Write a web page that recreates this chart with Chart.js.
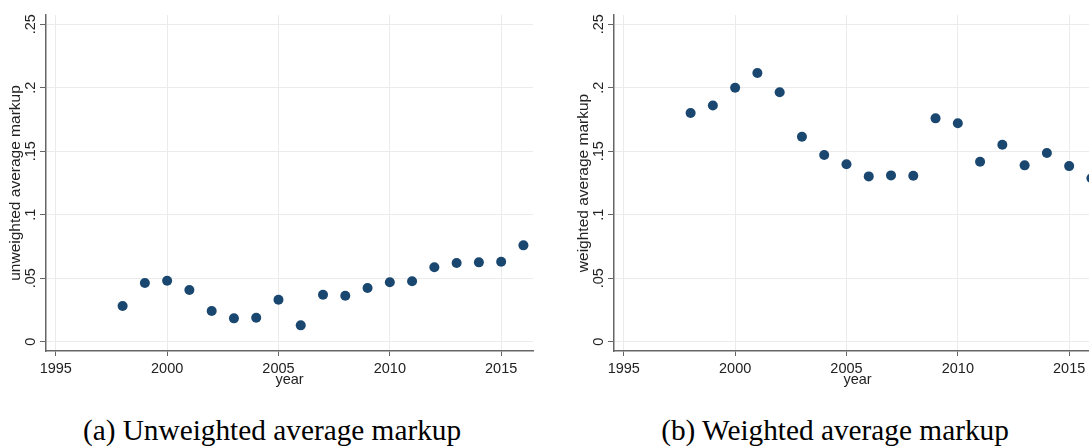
<!DOCTYPE html>
<html>
<head>
<meta charset="utf-8">
<script src="https://cdn.jsdelivr.net/npm/chart.js@4.4.1/dist/chart.umd.min.js"></script>
<style>
  html, body { margin: 0; padding: 0; background: #fff; }
  body { width: 1089px; height: 447px; overflow: hidden; position: relative; }
  .box { position: absolute; top: 0; width: 545px; height: 400px; }
  .cap {
    position: absolute; top: 416px; width: 500px;
    font-family: "Liberation Serif", "Times New Roman", serif;
    font-size: 29.3px; line-height: 29.5px; color: #000;
    white-space: nowrap; text-align: center;
  }
</style>
</head>
<body>
<div class="box" style="left:0"><canvas id="left" width="545" height="400"></canvas></div>
<div class="box" style="left:568px"><canvas id="right" width="545" height="400"></canvas></div>
<div class="cap" style="left:22px">(a) Unweighted average markup</div>
<div class="cap" style="left:585px">(b) Weighted average markup</div>

<script>
const years = [1998, 1999, 2000, 2001, 2002, 2003, 2004, 2005, 2006, 2007,
               2008, 2009, 2010, 2011, 2012, 2013, 2014, 2015, 2016]
const unweightedMarkup = [0.0281, 0.0462, 0.0480, 0.0407, 0.0242, 0.0184, 0.0189, 0.0331, 0.0129, 0.0370,
                          0.0362, 0.0423, 0.0468, 0.0476, 0.0586, 0.0620, 0.0625, 0.0630, 0.0759]
const weightedMarkup = [0.1801, 0.1861, 0.2000, 0.2116, 0.1964, 0.1614, 0.1470, 0.1397, 0.1302, 0.1310,
                        0.1307, 0.1759, 0.1720, 0.1417, 0.1551, 0.1389, 0.1486, 0.1383, 0.1287]
const yearTicks = [1995, 2000, 2005, 2010, 2015]
const markupTicks = [0, 0.05, 0.1, 0.15, 0.2, 0.25]
const markupTickLabels = ['0', '.05', '.1', '.15', '.2', '.25']

function el(cssSelector) {
  return document.querySelector(cssSelector)
}

const navy = '#1a476f'
const gridColor = '#ebebeb'
const axisColor = '#666666'
const textColor = '#222222'
const sans = '"Liberation Sans", Arial, sans-serif'

Chart.defaults.font.family = sans

function drawChart(canvasId, values, yTitle) {
  const points = years.map((yr, i) => ({ x: yr, y: values[i] }))

  return new Chart(el(canvasId).getContext('2d'), {
    type: 'scatter',
    data: {
      datasets: [{
        data: points,
        backgroundColor: navy,
        borderColor: navy,
        borderWidth: 0,
        pointRadius: 5,
        pointHoverRadius: 5
      }]
    },
    options: {
      responsive: false,
      animation: false,
      events: [],
      layout: { padding: { top: 15, right: 12, left: 0, bottom: 0 } },
      plugins: { legend: { display: false }, tooltip: { enabled: false } },
      scales: {
        x: {
          type: 'linear',
          min: 1994.56,
          max: 2016.43,
          afterBuildTicks: s => { s.ticks = yearTicks.map(v => ({ value: v })) },
          afterFit: s => { s.height = 49 },
          ticks: {
            color: textColor,
            font: { size: 14.5 },
            padding: 4,
            maxRotation: 0,
            autoSkip: false,
            callback: v => String(v)
          },
          grid: { color: gridColor, lineWidth: 1, tickLength: 5, tickColor: axisColor, tickWidth: 1 },
          border: { display: true, color: axisColor, width: 1.5 },
          title: {
            display: true,
            text: 'year',
            color: textColor,
            font: { size: 14.5 },
            padding: { top: 0, bottom: 11 }
          }
        },
        y: {
          type: 'linear',
          min: -0.0073,
          max: 0.2573,
          afterBuildTicks: s => { s.ticks = markupTicks.map(v => ({ value: v })) },
          afterFit: s => { s.width = 46 },
          ticks: {
            color: textColor,
            font: { size: 14.5 },
            minRotation: 90,
            maxRotation: 90,
            crossAlign: 'center',
            padding: -1,
            autoSkip: false,
            callback: (v, i) => markupTickLabels[i]
          },
          grid: { color: gridColor, lineWidth: 1, tickLength: 6, tickColor: axisColor, tickWidth: 1 },
          border: { display: true, color: axisColor, width: 1.5 },
          title: {
            display: true,
            text: yTitle,
            color: textColor,
            font: { size: 15.5 },
            padding: { top: 6.5, bottom: 0 }
          }
        }
      }
    }
  })
}

drawChart('#left', unweightedMarkup, 'unweighted average markup')
drawChart('#right', weightedMarkup, 'weighted average markup')
</script>
</body>
</html>
